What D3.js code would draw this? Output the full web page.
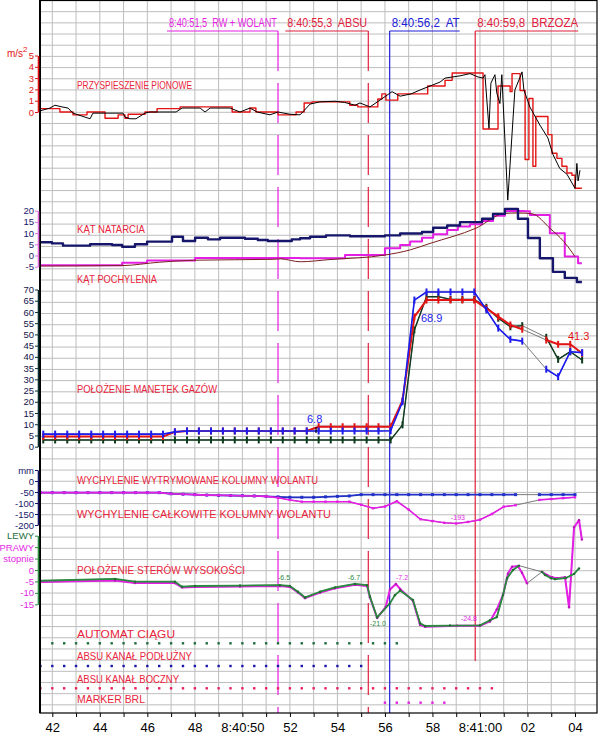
<!DOCTYPE html>
<html>
<head>
<meta charset="utf-8">
<script src="https://cdn.jsdelivr.net/npm/d3@7"></script>
<style>
body { margin: 0; background: #fff; }
svg { display: block; font-family: "Liberation Sans", Arial, sans-serif; }
</style>
</head>
<body>
<svg id="chart" width="600" height="737"></svg>
<script>
// ---- data (time in seconds after 8:40:00) ----
const xTickLabels = {42: "42", 44: "44", 46: "46", 48: "48", 50: "8:40:50", 52: "52", 54: "54",
    56: "56", 58: "58", 60: "8:41:00", 62: "02", 64: "04"};

const eventTimes = [51.5, 55.3, 56.2, 59.8];
const eventLabels = ["8:40:51,5  RW + WOLANT", "8:40:55,3  ABSU", "8:40:56,2  AT", "8:40:59,8  BRZOZA"];

// vertical acceleration, m/s2
const accelMeasured = [[41.48,0.1],[41.9,0.35],[42.11,0.6],[42.41,0.45],[42.66,0.35],[42.87,-0.1],[43.59,-0.6],
    [43.71,-0.1],[44.98,-0.1],[45.06,-0.45],[45.27,-0.6],[45.52,-0.6],[45.9,-0.1],[46.11,0],[47.21,0],[47.46,0.35],
    [48.22,0.35],[48.43,0],[48.64,0.35],[49.48,0.35],[49.9,0],[50.32,0.35],[50.62,0],[51.16,-0.25],[51.5,0],
    [52.0,-0.2],[52.43,-0.25],[52.85,0.7],[53.27,0.9],[53.9,0.95],[54.3,0.85],[54.74,0.6],[54.95,0.8],[55.37,0.45],
    [55.79,1.05],[56.3,1.8],[56.64,1.4],[57.1,1.6],[57.48,1.95],[58.32,2.65],[58.53,3.0],[59.16,3.2],[59.58,3.4],
    [59.92,3.1],[60.13,3.0],[60.21,3.3],[60.38,-1.45],[60.46,2.55],[60.63,3.3],[60.71,1.65],[60.84,0.75],[60.92,3.3],
    [61.17,-7.8],[61.47,1.95],[61.73,3.3],[61.77,3.55],[61.85,1.95],[62.1,0.45],[62.52,-1.15],[62.86,-2.3],
    [63.07,-3.75],[63.36,-5.0],[63.66,-5.5],[64.0,-6.75],[64.08,-4.55],[64.13,-6.1],[64.21,-5.15]];
const accelRecorded = [[41.48,0.3],[42.32,0],[42.87,-0.25],[43.46,0],[44.22,-0.55],[44.77,-0.25],[45.06,-0.55],
    [45.19,-0.2],[45.9,0],[46.41,0.3],[47.38,0.45],[49.57,0],[50.32,0.35],[50.57,0],[51.5,-0.25],[52.26,0],
    [52.6,0.8],[52.93,0.9],[54.52,0.6],[54.86,0.45],[55.7,1.15],[55.87,1.6],[56.04,1.05],[56.54,1.6],[57.8,2.3],
    [58.53,2.8],[58.83,3.45],[60.13,-1.5],[60.76,2.3],[61.27,1.8],[61.35,3.4],[61.69,1.9],[61.9,-4.2],[62.06,1.2],
    [62.23,-4.8],[62.35,-0.4],[62.86,-2.0],[63.03,-3.65],[63.24,-4.1],[63.45,-4.8],[63.66,-5.4],[63.87,-5.6],
    [64.0,-6.75],[64.29,-6.75]];

// angle of attack and pitch, degrees
const angleOfAttack = [[41.48,5.9],[41.99,5.4],[42.45,4.4],[43.59,5.0],[44.52,4.7],[44.94,3.9],[45.48,5.0],
    [45.99,6.2],[47.04,8.4],[47.5,6.5],[48.01,7.9],[48.55,7.2],[49.06,7.9],[50.11,7.5],[50.65,6.9],[51.07,6.5],
    [52.08,7.2],[52.43,7.7],[52.85,8.4],[53.52,9.0],[54.53,8.6],[56.0,9.0],[56.64,9.8],[57.56,10.5],[58.03,12.4],
    [58.62,13.4],[59.16,14.9],[60.09,16.4],[60.55,18.6],[61.05,20.8],[61.6,16.4],[62.02,7.8],[62.52,-1.2],
    [63.07,-7.3],[63.57,-10],[64.08,-11.8],[64.29,-11.8]];
const pitchRecorded = [[41.48,-4.3],[44.94,-3.2],[45.99,-2.2],[48.01,-1.1],[52.43,-1.25],[54.32,0.2],[56.0,3.2],
    [56.64,4.7],[57.06,6.2],[57.56,7.9],[58.03,9.5],[58.62,11.4],[59.07,12.9],[59.58,13.9],[60.09,15.4],
    [60.55,17.8],[61.05,19.9],[61.89,19.7],[62.1,18.1],[62.94,9.9],[63.57,-0.5],[64.13,-3.5],[64.29,-3.5]];
const pitchSmooth = [[41.48,-4.7],[44.94,-4.5],[46.5,-3.0],[48.01,-2.1],[51.3,-1.7],[51.6,-1.5],[52.43,-2.8],
    [53.69,-1.8],[56.0,0.2],[57.06,2.5],[57.9,5.4],[59.83,12.2],[61.05,18.8],[61.6,19.0],[62.2,18.6],[62.95,12.1],
    [63.53,6.2],[63.87,1.5],[64.0,-0.5]];

// throttle levers, sampled every ~0.5 s
const thrT = [41.62,42.12,42.63,43.13,43.64,44.14,44.64,45.15,45.65,46.16,46.66,47.16,47.67,48.17,48.68,49.18,
    49.68,50.19,50.69,51.2,51.7,52.2,52.71,53.21,53.72,54.22,54.72,55.23,55.73,56.24,56.74,57.24,57.75,58.25,
    58.76,59.26,59.76,60.27,60.77,61.28,61.78,62.28,62.79,63.29,63.8,64.3];
const thrBlue = [5.6,5.6,5.6,5.6,5.6,5.6,5.6,5.6,5.6,5.6,5.6,6.6,7.0,7.0,7.0,7.0,7.0,7.0,7.0,7.0,7.0,7.0,7.0,7.0,
    7.0,7.0,7.0,7.0,7.0,7.1,20,65.3,68.9,68.9,68.9,68.9,68.9,60.9,52.8,47.8,47.0,null,34.5,31.2,42.3,41.9];
const thrRed = [4.5,4.5,4.5,4.5,4.5,4.5,4.5,4.5,4.5,4.5,4.5,6.6,7.0,7.0,7.0,7.0,7.0,7.0,7.0,7.0,7.0,7.0,7.0,8.9,
    8.9,8.9,8.9,8.9,8.9,8.9,20.5,57.8,65.3,65.3,65.3,65.3,65.3,61.6,57.9,54.2,52.3,null,47.5,45.6,45.6,41.6];
const thrGreen = [3,3,3,3,3,3,3,3,3,3,3,3,3,3,3,3,3,3,3,3,3,3,3,3,3,3,3,3,3,3,9.7,52,66.8,66.8,65.6,65.6,65.6,
    62.1,57.2,53.4,53.9,null,48.7,38.9,42.3,38.6];

// control column, mm, sampled every 0.5 s
const colT = [41.5,42,42.5,43,43.5,44,44.5,45,45.5,46,46.5,47,47.5,48,48.5,49,49.5,50,50.5,51,51.5,52,52.5,53,
    53.5,54,54.5,55,55.5,56,56.5,57,57.5,58,58.5,59,59.5,60,60.5,61,61.5,62,62.5,63,63.5,64];
const colTrim = [-53,-53,-53,-53,-53,-53,-53,-53,-53,-53,-53,-58,-60,-62,-64,-65,-66,-67,-68,-70,-72,-74,-74,-74,
    -72,-70,-68,-62,-62,-62,-62,-62,-62,-62,-62,-62,-62,-62,-62,-62,-62,null,-62,-62,-62,-62];
const colTotal = [-53,-53,-53,-53,-53,-53,-53,-53,-53,-53,-53,-58,-60,-62,-64,-65,-66,-67,-68,-70,-76,-86,-94,-94,
    -94,-94,-94,-108,-124,-116,-92,-130,-174,-182,-190,-193,-186,-176,-150,-117,-110,null,-86,-82,-78,-74];

// elevators, degrees
const elevLeft = [[41.48,-4.7],[44.64,-3.9],[45.48,-5.1],[47.16,-5.1],[47.46,-7.3],[48.01,-7.0],[49.9,-6.8],
    [51.58,-6.6],[52.0,-7.0],[52.34,-9.5],[52.64,-12.0],[53.27,-9.5],[53.9,-7.6],[54.74,-6.1],[55.25,-6.6],
    [55.37,-11.7],[55.67,-20.7],[56.21,-14.6],[56.42,-11.0],[56.64,-9.0],[57.18,-13.1],[57.48,-23.3],[57.69,-24.5],
    [58.74,-24.3],[60.0,-24.2],[60.42,-22.0],[60.71,-20.6],[60.97,-10.9],[61.14,-3.6],[61.39,0.0],[61.64,1.9],
    [62.1,null],[62.61,-0.8],[62.74,-2.2],[62.99,-3.6],[63.16,-4.0],[63.62,-3.5],[63.96,-1.7],[64.17,0.7]];
const elevRight = [[41.48,-5.3],[44.64,-4.6],[45.48,-5.7],[47.16,-5.7],[47.46,-7.6],[48.01,-7.4],[49.9,-7.2],
    [51.58,-7.0],[52.0,-7.4],[52.34,-9.8],[52.64,-12.3],[53.27,-9.9],[53.9,-8.0],[54.74,-6.5],[55.25,-7.0],
    [55.37,-12.0],[55.67,-21.0],[56.04,-16.0],[56.21,-8.5],[56.46,-6.1],[56.64,-8.3],[57.18,-13.5],[57.48,-24.0],
    [57.69,-24.8],[59.03,-24.4],[60.0,-24.4],[60.42,-22.5],[60.71,-17.2],[60.97,-10.9],[61.18,-1.5],[61.35,1.4],
    [61.6,1.7],[61.77,-1.2],[61.98,-5.8],[62.3,null],[62.61,-0.8],[62.82,-2.2],[63.03,-3.2],[63.24,-3.6],
    [63.58,-3.2],[63.75,-16.3],[63.96,18.7],[64.17,21.8],[64.29,13.3]];

// discrete signals: [on from, on until], sampled every 0.5 s
const autothrottleOn = [42.0, 56.5];
const absuPitchOn = [41.5, 55.0];
const absuRollOn = [41.5, 60.5];
const markerBrlOn = [56.0, 58.5];

// ---- layout ----
const svg = d3.select("#chart");
const plotL = 40, plotR = 597, plotT = 0, plotB = 713;
const titleRed = "#e8243c", red = "#e41414", blue = "#1c1cf0", navy = "#16166a",
    magenta = "#e41ee4", dkgreen = "#0e3a1e", elgreen = "#2a8a40", gray = "#7a7a7a";

const x = d3.scaleLinear().domain([42, 64]).range([52.3, 575]);
const yAcc = d3.scaleLinear().domain([0, 5]).range([112, 55.5]);
const yAng = d3.scaleLinear().domain([-5, 20]).range([266.7, 210.7]);
const yThr = d3.scaleLinear().domain([0, 70]).range([446.7, 289.5]);
const yCol = d3.scaleLinear().domain([-200, 50]).range([525, 470]);
const yElev = d3.scaleLinear().domain([-15, 15]).range([604.3, 535.7]);

// grid
const grid = svg.append("g").attr("stroke", "#bdbdbd").attr("stroke-width", 1);
grid.selectAll(".gv").data(d3.range(42, 65)).join("line")
    .attr("x1", d => x(d)).attr("x2", d => x(d)).attr("y1", plotT).attr("y2", plotB);
grid.selectAll(".gh").data(d3.range(0, 64).map(k => 0.5 + k * 11.18).filter(y => y < plotB)).join("line")
    .attr("x1", plotL).attr("x2", plotR).attr("y1", d => d).attr("y2", d => d);

// event markers; labels are squeezed horizontally with a scale transform
const evColors = [magenta, "#e0203c", "#2020d8", "#e0203c"];
const evWidths = [108, 80, 68, 101];
const evSide = ["L", "L", "R", "R"];
const evDash = ["40,12", "40,12", null, null];
const evBottom = [plotB, plotB, plotB, 661];
eventTimes.forEach((t, i) => {
    const lx = x(t);
    const x0 = evSide[i] === "L" ? lx - evWidths[i] - 1 : lx + 2;
    svg.append("line").attr("x1", lx).attr("x2", lx).attr("y1", 31).attr("y2", evBottom[i])
        .attr("stroke", evColors[i]).attr("stroke-width", 1.2).attr("stroke-dasharray", evDash[i]);
    svg.append("line").attr("x1", evSide[i] === "L" ? x0 - 2 : lx).attr("x2", evSide[i] === "L" ? lx : x0 + evWidths[i])
        .attr("y1", 31).attr("y2", 31).attr("stroke", evColors[i]).attr("stroke-width", 1.2);
    const txt = svg.append("text").attr("font-size", 12).attr("fill", evColors[i])
        .style("white-space", "pre").text(eventLabels[i]);
    const natural = txt.node().getComputedTextLength();
    txt.attr("transform", `translate(${x0},26.5) scale(${evWidths[i] / natural},1)`);
});

// helpers
function line(ys, curve) {
    return d3.line().defined(d => d[1] != null).x(d => x(d[0])).y(d => ys(d[1])).curve(curve || d3.curveLinear);
}
function draw(pts, ys, color, w, curve) {
    svg.append("path").datum(pts).attr("fill", "none").attr("stroke", color).attr("stroke-width", w)
        .attr("stroke-linejoin", "round").attr("d", line(ys, curve));
}
function drawGapped(pts, ys, color, w) {
    draw(pts.filter(d => d[1] != null), ys, gray, 1);
    draw(pts, ys, color, w);
}
const zip = (ts, vs) => ts.map((t, i) => [t, vs[i]]);

// acceleration
draw(accelRecorded, yAcc, red, 1.4, d3.curveStepAfter);
draw(accelMeasured, yAcc, "#000", 1);

// angles
draw(pitchRecorded, yAng, magenta, 2, d3.curveStepAfter);
draw(pitchSmooth, yAng, "#7a2020", 1, d3.curveMonotoneX);
draw(angleOfAttack, yAng, navy, 2.4, d3.curveStepAfter);

// throttles
[[thrGreen, dkgreen, 1.4], [thrRed, red, 2], [thrBlue, blue, 1.6]].forEach(([vals, c, w]) => {
    const pts = zip(thrT, vals);
    drawGapped(pts, yThr, c, w);
    svg.append("g").selectAll("rect").data(pts.filter(d => d[1] != null)).join("rect")
        .attr("x", d => x(d[0]) - 1).attr("y", d => yThr(d[1]) - 3.5).attr("width", 2).attr("height", 7).attr("fill", c);
});

// column (trimmed first, total drawn over it)
[[colTrim, "#2030c8", 1.8, 3], [colTotal, magenta, 1.6, 2.4]].forEach(([vals, c, w, s]) => {
    const pts = zip(colT, vals);
    drawGapped(pts, yCol, c, w);
    svg.append("g").selectAll("rect").data(pts.filter(d => d[1] != null)).join("rect")
        .attr("x", d => x(d[0]) - s / 2).attr("y", d => yCol(d[1]) - s / 2).attr("width", s).attr("height", s).attr("fill", c);
});

// elevators
[[elevRight, magenta, 2], [elevLeft, elgreen, 1.8]].forEach(([pts, c, w]) => {
    drawGapped(pts, yElev, c, w);
    svg.append("g").selectAll("circle").data(pts.filter(d => d[1] != null)).join("circle")
        .attr("cx", d => x(d[0])).attr("cy", d => yElev(d[1])).attr("r", 1.2).attr("fill", d3.color(c).darker(0.6));
});

// discrete signals
const discreteRows = [[autothrottleOn, 643.3, "#1e6e3c"], [absuPitchOn, 666, "#1818a8"],
    [absuRollOn, 688.3, "#e8205a"], [markerBrlOn, 702.7, magenta]];
discreteRows.forEach(([on, y, c]) => {
    svg.append("g").selectAll("rect").data(d3.range(on[0], on[1] + 0.01, 0.5)).join("rect")
        .attr("x", d => x(d) - 1.2).attr("y", y - 1.2).attr("width", 2.4).attr("height", 2.4).attr("fill", c);
});

// value callouts
const callouts = [
    [53.1, yThr(7.0), "6.8", blue, 11, 307, 423],
    [57.75, null, "68.9", blue, 11, 421, 322],
    [64.3, null, "41.3", red, 11, 568, 340],
    [59.03, null, "-193", magenta, 7, 451, 520],
    [51.58, null, "-6.5", elgreen, 7, 278, 580],
    [54.74, null, "-6.7", elgreen, 7, 348, 580],
    [56.46, null, "-7.2", magenta, 7, 396, 580],
    [55.67, null, "-21.0", elgreen, 7, 370, 626],
    [59.5, null, "-24.8", magenta, 7, 461, 621]
];
callouts.forEach(([t, ty, txt, c, fs, tx, tyy]) => {
    svg.append("text").attr("x", tx).attr("y", tyy).attr("font-size", fs).attr("fill", c).text(txt);
    if (ty != null) svg.append("line").attr("x1", x(t)).attr("x2", x(t)).attr("y1", ty - 4).attr("y2", ty + 2)
        .attr("stroke", "#000").attr("stroke-width", 1.2);
});

// panel titles: [text, baseline, width]
const titles = [
    ["PRZYSPIESZENIE PIONOWE", 89, 115],
    ["KĄT NATARCIA", 232.5, 68],
    ["KĄT POCHYLENIA", 282.5, 80],
    ["POŁOŻENIE MANETEK GAZÓW", 393, 140],
    ["WYCHYLENIE  WYTRYMOWANE  KOLUMNY  WOLANTU", 484, 241],
    ["WYCHYLENIE  CAŁKOWITE  KOLUMNY  WOLANTU", 517.5, 254],
    ["POŁOŻENIE  STERÓW  WYSOKOŚCI", 573.5, 168],
    ["AUTOMAT  CIĄGU", 637.5, 98],
    ["ABSU KANAŁ PODŁUŻNY", 660, 115],
    ["ABSU KANAŁ BOCZNY", 682.5, 102],
    ["MARKER BRL", 702.5, 68]
];
svg.append("g").selectAll("text").data(titles).join("text")
    .attr("x", 77).attr("y", d => d[1]).attr("font-size", 11).attr("fill", titleRed)
    .attr("textLength", d => d[2]).attr("lengthAdjust", "spacingAndGlyphs").text(d => d[0]);

// plot frame
svg.append("rect").attr("x", plotL).attr("y", plotT + 0.5).attr("width", plotR - plotL).attr("height", plotB - plotT - 0.5)
    .attr("fill", "none").attr("stroke", "#000").attr("stroke-width", 1.2);
svg.append("line").attr("x1", plotL).attr("x2", plotL).attr("y1", 0).attr("y2", plotB)
    .attr("stroke", "#000").attr("stroke-width", 2);

// y axes
function yAxis(scale, ticks, axisColor, labelColor, fmt) {
    const g = svg.append("g").attr("transform", "translate(38,0)")
        .call(d3.axisLeft(scale).tickValues(ticks).tickSize(3).tickSizeOuter(0).tickPadding(1).tickFormat(fmt || (d => d)));
    g.select(".domain").attr("stroke", axisColor).attr("stroke-width", 1.6);
    g.selectAll(".tick line").attr("stroke", axisColor);
    g.selectAll(".tick text").attr("fill", typeof labelColor === "function" ? labelColor : () => labelColor)
        .attr("font-size", 9.5).attr("font-family", "Liberation Sans, Arial, sans-serif");
    return g;
}
yAxis(yAcc, [0, 1, 2, 3, 4, 5], red, red);
yAxis(yAng, [-5, 0, 5, 10, 15, 20], "#e070e0", navy);
yAxis(yThr, d3.range(0, 71, 5), "#0c3030", "#14144a");
yAxis(yCol, [50, 0, -50, -100, -150, -200], navy, navy, d => d === 50 ? "mm" : d);
const elevNames = {15: "LEWY", 10: "PRAWY", 5: "stopnie"};
yAxis(yElev, [15, 10, 5, 0, -5, -10, -15], elgreen, d => d === 15 ? "#1e6e3c" : magenta,
    d => elevNames[d] || d);

const unit = svg.append("text").attr("x", 7).attr("y", 57).attr("font-size", 10).attr("fill", red);
unit.append("tspan").text("m/s");
unit.append("tspan").attr("dy", -5).attr("font-size", 8).text("2");

// time axis
const xg = svg.append("g").attr("transform", `translate(0,${plotB})`)
    .call(d3.axisBottom(x).tickValues(d3.range(42, 65)).tickSize(4).tickSizeOuter(0).tickPadding(6)
        .tickFormat(d => xTickLabels[d] || ""));
xg.select(".domain").remove();
xg.selectAll(".tick line").attr("stroke", "#000");
xg.selectAll(".tick text").attr("font-size", 13).attr("fill", "#000")
    .attr("font-family", "Liberation Sans, Arial, sans-serif");
</script>
</body>
</html>
